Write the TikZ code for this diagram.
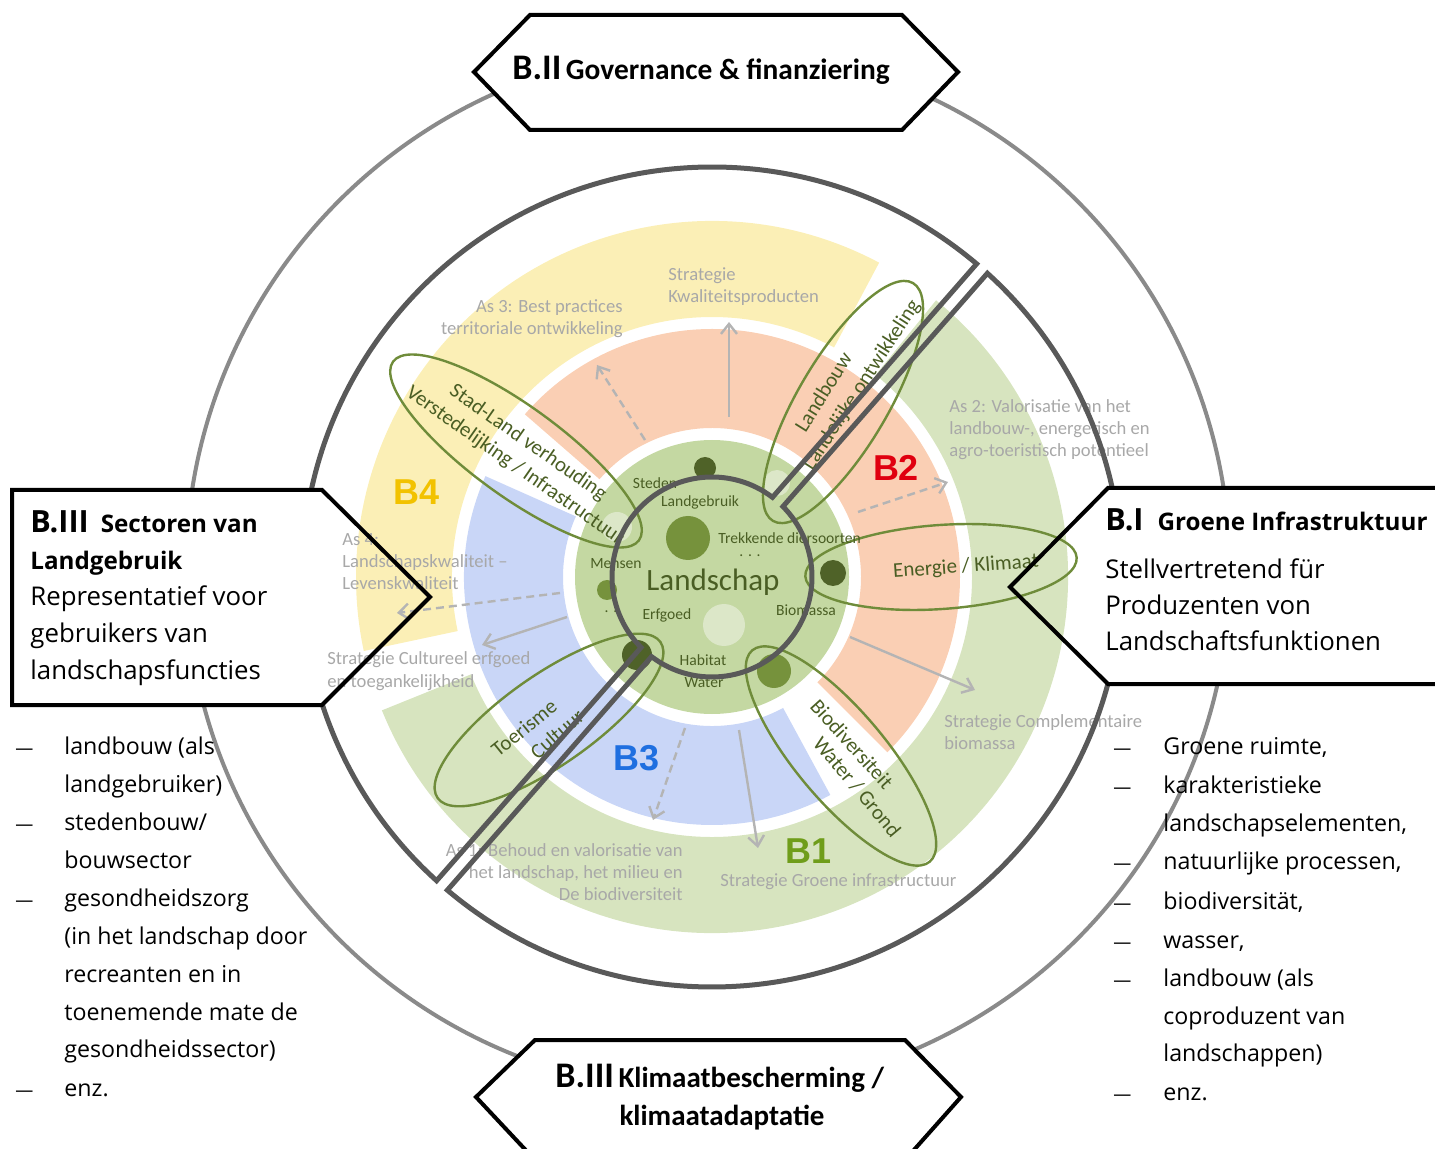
\documentclass[tikz,border=0pt]{standalone}
\usepackage{fontspec}
\setmainfont{Carlito}
\newfontfamily\osans{Open Sans}
\newfontfamily\arialf{Liberation Sans}
\usetikzlibrary{arrows.meta}
\definecolor{cyellow}{HTML}{FBEFB6}
\definecolor{cgreen}{HTML}{D7E4BF}
\definecolor{cpink}{HTML}{FACFB4}
\definecolor{cblue}{HTML}{C9D6F7}
\definecolor{cdisc}{HTML}{C4D8A2}
\definecolor{cdot}{HTML}{4F6228}
\definecolor{cmid}{HTML}{76923C}
\definecolor{cpale}{HTML}{DCE7C8}
\definecolor{olive}{HTML}{6F8C3A}
\definecolor{olivetxt}{HTML}{4A5E24}
\definecolor{gtxt}{HTML}{A8A8A8}
\definecolor{garrow}{HTML}{B4B4B4}
\definecolor{dkgray}{HTML}{595959}
\definecolor{circgray}{HTML}{8A8A8A}
\definecolor{bfour}{HTML}{F2C200}
\definecolor{btwo}{HTML}{E0000F}
\definecolor{bthree}{HTML}{1F6FE0}
\definecolor{bone}{HTML}{6F9D1A}
\newcommand{\annsec}[5]{\fill[#1] (#4:#3) arc[start angle=#4,end angle=#5,radius=#3] -- (#5:#2) arc[start angle=#5,end angle=#4,radius=#2] -- cycle;}
\tikzset{
  graytxt/.style={text=gtxt, font=\fontsize{9.3}{11}\selectfont, inner sep=0pt},
  disctxt/.style={text=olivetxt, font=\fontsize{7.8}{9}\selectfont, inner sep=0pt},
  eltxt/.style={text=olivetxt, font=\fontsize{10.5}{12}\selectfont, inner sep=0pt},
  petal/.style={draw=olive, line width=1.2pt},
  blabel/.style={font=\arialf\bfseries\fontsize{18}{20}\selectfont, inner sep=0pt},
  darkshape/.style={draw=dkgray, line width=2.5pt, line join=miter},
  graycircle/.style={draw=circgray, line width=2pt},
  boxline/.style={draw=black, line width=2pt, line join=miter},
  bultxt/.style={font=\osans\fontsize{11.6}{14}\selectfont, anchor=base west, inner sep=0pt},
  bulldash/.style={font=\osans\fontsize{9}{14}\selectfont, anchor=base west, inner sep=0pt},
  boxtxt/.style={font=\osans\fontsize{12.9}{15}\selectfont, anchor=base west, inner sep=0pt},
  boxhead/.style={font=\osans\bfseries\fontsize{12.1}{15}\selectfont, anchor=base west, inner sep=0pt},
  solidarrow/.style={draw=garrow, line width=1.2pt, -{Straight Barb[length=5pt,width=8pt]}},
  dasharrow/.style={solidarrow, dash pattern=on 4pt off 2.5pt},
}
\begin{document}
\begin{tikzpicture}[x=0.5pt,y=0.5pt]
\useasboundingbox (0,0) rectangle (1435,-1149);
\clip (0,0) rectangle (1435,-1149);

% ---------- coloured rings ----------
\begin{scope}[shift={(712,-577)}]
  \annsec{cyellow}{260}{356}{62}{192}
  \annsec{cgreen}{260}{356}{-158}{51}
  \annsec{cpink}{149}{248}{-45}{139}
  \annsec{cblue}{149}{248}{156}{298.5}
  \fill[cdisc] (0,0) circle[radius=137];
\end{scope}

% ---------- dots ----------
\fill[cdot] (705,-468) circle[radius=11];
\fill[cdot] (833,-573) circle[radius=13];
\fill[cdot] (637,-655) circle[radius=15];
\fill[cmid] (688,-538) circle[radius=22];
\fill[cmid] (607,-590) circle[radius=10];
\fill[cmid] (774,-671) circle[radius=17];
\fill[cpale] (617,-527) circle[radius=15];
\fill[cpale] (777,-483) circle[radius=13];
\fill[cpale] (724,-625) circle[radius=21];

% ---------- grey labels ----------
\node[graytxt, anchor=base west] (gs1) at (668,-281) {Strategie};
\node[graytxt, anchor=base west] (gs2) at (668,-303) {Kwaliteitsproducten};
\node[graytxt, anchor=base east] (ga31) at (623,-313) {As 3: Best practices};
\node[graytxt, anchor=base east] (ga32) at (623,-335) {territoriale ontwikkeling};
\node[graytxt, anchor=base west] (ga21) at (949,-413) {As 2: Valorisatie van het};
\node[graytxt, anchor=base west] (ga22) at (949,-435) {landbouw-, energetisch en};
\node[graytxt, anchor=base west] (ga23) at (949,-457) {agro-toeristisch potentieel};
\node[graytxt, anchor=base west] (ga41) at (342,-546) {As 4:};
\node[graytxt, anchor=base west] (ga42) at (342,-568) {Landschapskwaliteit –};
\node[graytxt, anchor=base west] (ga43) at (342,-590) {Levenskwaliteit};
\node[graytxt, anchor=base west] (gc1) at (327,-665) {Strategie Cultureel erfgoed};
\node[graytxt, anchor=base west] (gc2) at (327,-687) {en toegankelijkheid};
\node[graytxt, anchor=base west] (gb1) at (944,-727) {Strategie Complementaire};
\node[graytxt, anchor=base west] (gb2) at (944,-749) {biomassa};
\node[graytxt, anchor=base east] (ga11) at (683,-856) {As 1: Behoud en valorisatie van};
\node[graytxt, anchor=base east] (ga12) at (683,-878) {het landschap, het milieu en};
\node[graytxt, anchor=base east] (ga13) at (683,-900) {De biodiversiteit};
\node[graytxt, anchor=base west] (gg1) at (720,-886) {Strategie Groene infrastructuur};

% ---------- grey arrows ----------
\coordinate (a1s) at (645,-440); \coordinate (a1e) at (597,-365);
\coordinate (a2s) at (729,-417); \coordinate (a2e) at (729,-322);
\coordinate (a3s) at (858,-512); \coordinate (a3e) at (948,-482);
\coordinate (a4s) at (850,-637); \coordinate (a4e) at (975,-690);
\coordinate (a5s) at (560,-593); \coordinate (a5e) at (397,-613);
\coordinate (a6s) at (567,-617); \coordinate (a6e) at (482,-645);
\coordinate (a7s) at (685,-728); \coordinate (a7e) at (653,-820);
\coordinate (a8s) at (739,-730); \coordinate (a8e) at (758,-848);
\draw[dasharrow] (a1s) -- (a1e);
\draw[solidarrow] (a2s) -- (a2e);
\draw[dasharrow] (a3s) -- (a3e);
\draw[solidarrow] (a4s) -- (a4e);
\draw[dasharrow] (a5s) -- (a5e);
\draw[solidarrow] (a6s) -- (a6e);
\draw[dasharrow] (a7s) -- (a7e);
\draw[solidarrow] (a8s) -- (a8e);

% ---------- B labels ----------
\node[blabel, text=bfour] (b4) at (417,-492) {B4};
\node[blabel, text=btwo] (b2) at (896,-468) {B2};
\node[blabel, text=bthree] (b3) at (637,-758) {B3};
\node[blabel, text=bone] (b1) at (809,-851) {B1};

% ---------- petals ----------
\draw[petal, rotate around={-36:(516,-451)}] (516,-451) ellipse[x radius=152, y radius=45];
\draw[petal, rotate around={59.5:(843,-402)}] (843,-402) ellipse[x radius=138, y radius=45];
\draw[petal, rotate around={4:(941,-567)}] (941,-567) ellipse[x radius=136, y radius=42];
\draw[petal, rotate around={-50:(841,-756)}] (841,-756) ellipse[x radius=138, y radius=45];
\draw[petal, rotate around={35:(549,-720)}] (549,-720) ellipse[x radius=136, y radius=45];

\node[eltxt, rotate=-35] (e1a) at (528,-443) {Stad-Land verhouding};
\node[eltxt, rotate=-35] (e1b) at (515,-466) {Verstedelijking / Infrastructuur};
\node[eltxt, rotate=58] (e2a) at (823,-392) {Landbouw};
\node[eltxt, rotate=57] (e2b) at (862,-385) {Landelijke ontwikkeling};
\node[eltxt, rotate=4] (e3) at (966,-567) {Energie / Klimaat};
\node[eltxt, rotate=-48] (e4a) at (852,-744) {Biodiversiteit};
\node[eltxt, rotate=-50] (e4b) at (857,-787) {Water / Grond};
\node[eltxt, rotate=39] (e5a) at (524,-728) {Toerisme};
\node[eltxt, rotate=41] (e5b) at (557,-734) {Cultuur};

% ---------- disc labels ----------
\node[disctxt] (d1) at (655,-483) {Steden};
\node[disctxt] (d2) at (700,-502) {Landgebruik};
\node[disctxt, anchor=west] (d3) at (718,-538) {Trekkende diersoorten};
\node[disctxt] (d4) at (750,-556) {. . .};
\node[text=olivetxt, font=\fontsize{15.5}{18}\selectfont, inner sep=0pt] (d5) at (713,-582) {Landschap};
\node[disctxt] (d6) at (616,-564) {Mensen};
\node[disctxt] (d7) at (806,-610) {Biomassa};
\node[disctxt] (d8) at (667,-615) {Erfgoed};
\node[disctxt] (d9) at (611,-612) {. .};
\node[disctxt] (d10) at (703,-660) {Habitat};
\node[disctxt] (d11) at (704,-683) {Water};

% ---------- circles hidden by the boxes ----------
\begin{scope}
  \clip (0,-1149) -- (1435,-1149) -- (1435,0) -- (0,0) -- cycle
        (12,-490) -- (322,-490) -- (430,-597) -- (322,-705) -- (12,-705) -- cycle
        (1010,-587) -- (1108,-488) -- (1445,-488) -- (1445,-684) -- (1108,-684) -- cycle
        (474,-72) -- (530,-15) -- (902,-15) -- (958,-72) -- (902,-130) -- (530,-130) -- cycle
        (476,-1097) -- (535,-1040) -- (905,-1040) -- (961,-1097) -- (905,-1160) -- (535,-1160) -- cycle;
  \draw[graycircle] (708,-570) circle[radius=522];
  \begin{scope}[shift={(712,-577)}]
    \draw[darkshape] (52.8:100) -- (49.8:410) arc[start angle=49.8,end angle=227.8,radius=410]
      -- (224.8:100) arc[start angle=224.8,end angle=52.8,radius=100] -- cycle;
    \draw[darkshape] (44.8:100) -- (47.8:410) arc[start angle=47.8,end angle=-130.2,radius=410]
      -- (-127.2:100) arc[start angle=-127.2,end angle=44.8,radius=100] -- cycle;
  \end{scope}
\end{scope}

% ---------- boxes ----------
\draw[boxline] (474,-72) -- (530,-15) -- (902,-15) -- (958,-72) -- (902,-130) -- (530,-130) -- cycle;
\draw[boxline] (476,-1097) -- (535,-1040) -- (905,-1040) -- (961,-1097) -- (905,-1160) -- (535,-1160) -- cycle;
\draw[boxline] (12,-490) -- (322,-490) -- (430,-597) -- (322,-705) -- (12,-705) -- cycle;
\draw[boxline] (1445,-488) -- (1108,-488) -- (1010,-587) -- (1108,-684) -- (1445,-684);

\node[anchor=base west, inner sep=0pt, font=\bfseries] (t2) at (512,-80)
  {{\fontsize{18}{20}\selectfont B.II} {\fontsize{14.7}{17}\selectfont Governance \& finanziering}};
\node[anchor=base west, inner sep=0pt, font=\bfseries] (t3a) at (555,-1087)
  {{\fontsize{18}{20}\selectfont B.III} {\fontsize{14.5}{17}\selectfont Klimaatbescherming /}};
\node[anchor=base, inner sep=0pt, font=\bfseries\fontsize{14.5}{17}\selectfont] (t3b) at (722,-1125) {klimaatadaptatie};

\node[boxhead] (l1) at (30,-533)
  {{\fontsize{15.3}{18}\selectfont B.III}\hspace{6pt}Sectoren van};
\node[boxhead] (l2) at (30,-570) {Landgebruik};
\node[boxtxt] (l3) at (30,-606) {Representatief voor};
\node[boxtxt] (l4) at (30,-643) {gebruikers van};
\node[boxtxt] (l5) at (30,-679) {landschapsfuncties};

\node[boxhead] (r1) at (1105,-531)
  {{\fontsize{15.3}{18}\selectfont B.I}\hspace{7pt}Groene Infrastruktuur};
\node[boxtxt] (r2) at (1105,-579) {Stellvertretend für};
\node[boxtxt] (r3) at (1105,-615) {Produzenten von};
\node[boxtxt] (r4) at (1105,-651) {Landschaftsfunktionen};

% ---------- bullet lists ----------
\node[bulldash] (lb1d) at (15,-754) {—};
\node[bultxt] (lb1) at (64,-754) {landbouw (als};
\node[bultxt] (lb2) at (64,-792) {landgebruiker)};
\node[bulldash] (lb3d) at (15,-830) {—};
\node[bultxt] (lb3) at (64,-830) {stedenbouw/};
\node[bultxt] (lb4) at (64,-868) {bouwsector};
\node[bulldash] (lb5d) at (15,-906) {—};
\node[bultxt] (lb5) at (64,-906) {gesondheidszorg};
\node[bultxt] (lb6) at (64,-944) {(in het landschap door};
\node[bultxt] (lb7) at (64,-982) {recreanten en in};
\node[bultxt] (lb8) at (64,-1020) {toenemende mate de};
\node[bultxt] (lb9) at (64,-1057) {gesondheidssector)};
\node[bulldash] (lb10d) at (15,-1096) {—};
\node[bultxt] (lb10) at (64,-1096) {enz.};

\node[bulldash] (rb1d) at (1113,-754) {—};
\node[bultxt] (rb1) at (1163,-754) {Groene ruimte,};
\node[bulldash] (rb2d) at (1113,-793) {—};
\node[bultxt] (rb2) at (1163,-793) {karakteristieke};
\node[bultxt] (rb3) at (1163,-831) {landschapselementen,};
\node[bulldash] (rb4d) at (1113,-869) {—};
\node[bultxt] (rb4) at (1163,-869) {natuurlijke processen,};
\node[bulldash] (rb5d) at (1113,-909) {—};
\node[bultxt] (rb5) at (1163,-909) {biodiversität,};
\node[bulldash] (rb6d) at (1113,-948) {—};
\node[bultxt] (rb6) at (1163,-948) {wasser,};
\node[bulldash] (rb7d) at (1113,-986) {—};
\node[bultxt] (rb7) at (1163,-986) {landbouw (als};
\node[bultxt] (rb8) at (1163,-1024) {coproduzent van};
\node[bultxt] (rb9) at (1163,-1061) {landschappen)};
\node[bulldash] (rb10d) at (1113,-1100) {—};
\node[bultxt] (rb10) at (1163,-1100) {enz.};
\end{tikzpicture}
\end{document}
